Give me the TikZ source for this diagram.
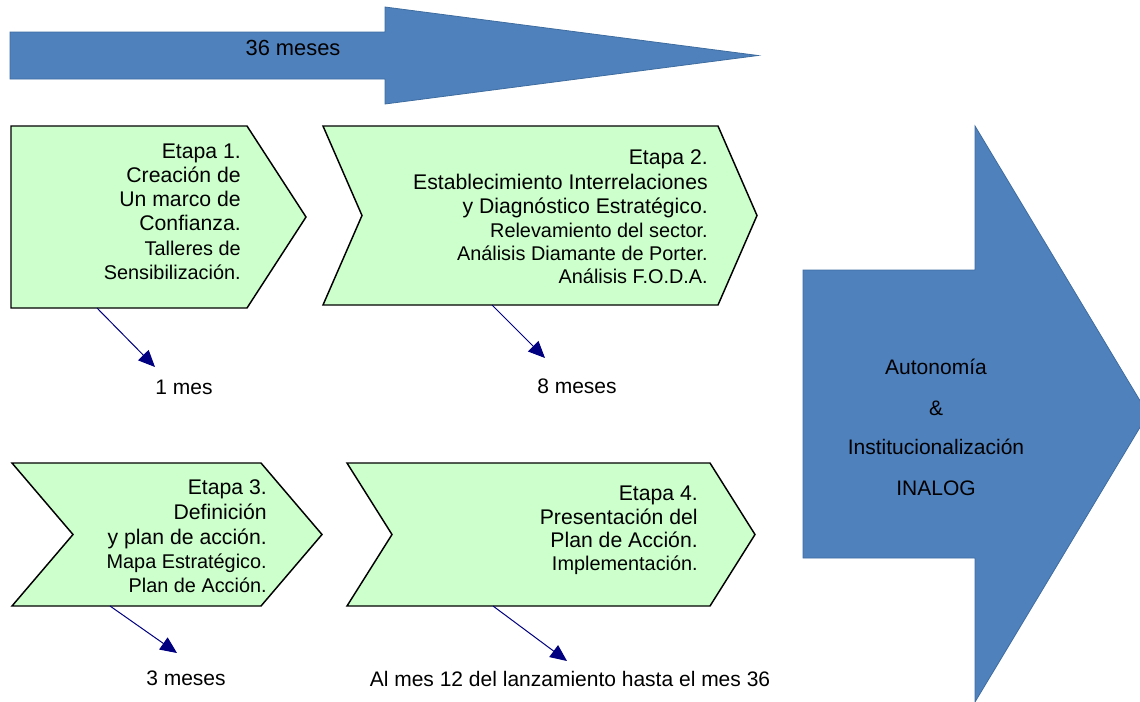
\documentclass[tikz,border=0pt]{standalone}
\usepackage{fontspec}
\setmainfont{Liberation Sans}
\usetikzlibrary{arrows.meta}
\definecolor{blueA}{HTML}{4F81BD}
\definecolor{blueB}{HTML}{3E6C9F}
\definecolor{greenA}{HTML}{CCFFCC}
\definecolor{navyA}{HTML}{000080}
\begin{document}
\begin{tikzpicture}[x=0.75pt,y=-0.75pt,
  bluearrow/.style={fill=blueA,draw=blueB,line width=0.6pt},
  chev/.style={fill=greenA,draw=black,line width=1.1pt,line join=miter},
  bigline/.style={font=\fontsize{15.9}{19}\selectfont,anchor=base east,inner sep=0pt},
  smallline/.style={font=\fontsize{14.9}{18}\selectfont,anchor=base east,inner sep=0pt},
  lbl/.style={font=\fontsize{15.75}{19}\selectfont,inner sep=0pt},
  pointer/.style={draw=navyA,line width=0.75pt,-{Triangle[length=12.5pt,width=11pt]}}]
\clip (0,0) rectangle (1140,701);
\useasboundingbox (0,0) rectangle (1140,701);
\fill[white] (0,0) rectangle (1140,701);

% top arrow
\draw[bluearrow] (10,32) -- (385,32) -- (385,7) -- (758,55.5) -- (385,104) -- (385,79) -- (10,79) -- cycle;
\node[font=\fontsize{16.4}{20}\selectfont,inner sep=0pt] (t36) at (293,48) {36 meses};

% big arrow
\draw[bluearrow] (803,270) -- (975,270) -- (975,126) -- (1148,414) -- (975,702) -- (975,558) -- (803,558) -- cycle;
\node[lbl] (bA) at (936,367) {Autonomía};
\node[lbl] (bB) at (936,408) {\&};
\node[lbl] (bC) at (936,447) {Institucionalización};
\node[lbl] (bD) at (936,488) {INALOG};

% chevrons
\draw[chev] (11,126) -- (247,126) -- (306,217) -- (247,308) -- (11,308) -- cycle;
\draw[chev] (323,126) -- (718,126) -- (757,215.5) -- (718,305) -- (323,305) -- (362,215.5) -- cycle;
\draw[chev] (12,463) -- (261,463) -- (322,534.5) -- (261,606) -- (12,606) -- (73,534.5) -- cycle;
\draw[chev] (347,463) -- (710,463) -- (755,534.5) -- (710,606) -- (347,606) -- (392,534.5) -- cycle;

% Etapa 1
\node[bigline] (e1a) at (241,158) {Etapa 1.};
\node[bigline] (e1b) at (241,182) {Creación de};
\node[bigline] (e1c) at (241,206) {Un marco de};
\node[bigline] (e1d) at (241,230) {Confianza.};
\node[smallline] (e1e) at (241,255) {Talleres de};
\node[smallline] (e1f) at (241,279) {Sensibilización.};

% Etapa 2
\node[bigline] (e2a) at (708,164) {Etapa 2.};
\node[bigline] (e2b) at (708,189) {Establecimiento Interrelaciones};
\node[bigline] (e2c) at (708,213) {y Diagnóstico Estratégico.};
\node[smallline] (e2d) at (708,237) {Relevamiento del sector.};
\node[smallline] (e2e) at (708,260) {Análisis Diamante de Porter.};
\node[smallline] (e2f) at (708,283) {Análisis F.O.D.A.};

% Etapa 3
\node[bigline] (e3a) at (267,494) {Etapa 3.};
\node[bigline] (e3b) at (267,519) {Definición};
\node[bigline] (e3c) at (267,544) {y plan de acción.};
\node[smallline] (e3d) at (267,568) {Mapa Estratégico.};
\node[smallline] (e3e) at (267,592) {Plan de Acción.};

% Etapa 4
\node[bigline] (e4a) at (698,500) {Etapa 4.};
\node[bigline] (e4b) at (698,524) {Presentación del};
\node[bigline] (e4c) at (698,547) {Plan de Acción.};
\node[smallline] (e4d) at (698,570) {Implementación.};

% duration labels
\node[lbl] (d1) at (184,387) {1 mes};
\node[lbl] (d2) at (577,386) {8 meses};
\node[lbl] (d3) at (186,678) {3 meses};
\node[lbl] (d4) at (570,679) {Al mes 12 del lanzamiento hasta el mes 36};

% pointers
\coordinate (p1s) at (97,308);  \coordinate (p1e) at (155,367);
\coordinate (p2s) at (492,305); \coordinate (p2e) at (545,358);
\coordinate (p3s) at (110,606); \coordinate (p3e) at (177,653);
\coordinate (p4s) at (493,606); \coordinate (p4e) at (567,661);
\draw[pointer] (p1s) -- (p1e);
\draw[pointer] (p2s) -- (p2e);
\draw[pointer] (p3s) -- (p3e);
\draw[pointer] (p4s) -- (p4e);
\end{tikzpicture}
\end{document}
